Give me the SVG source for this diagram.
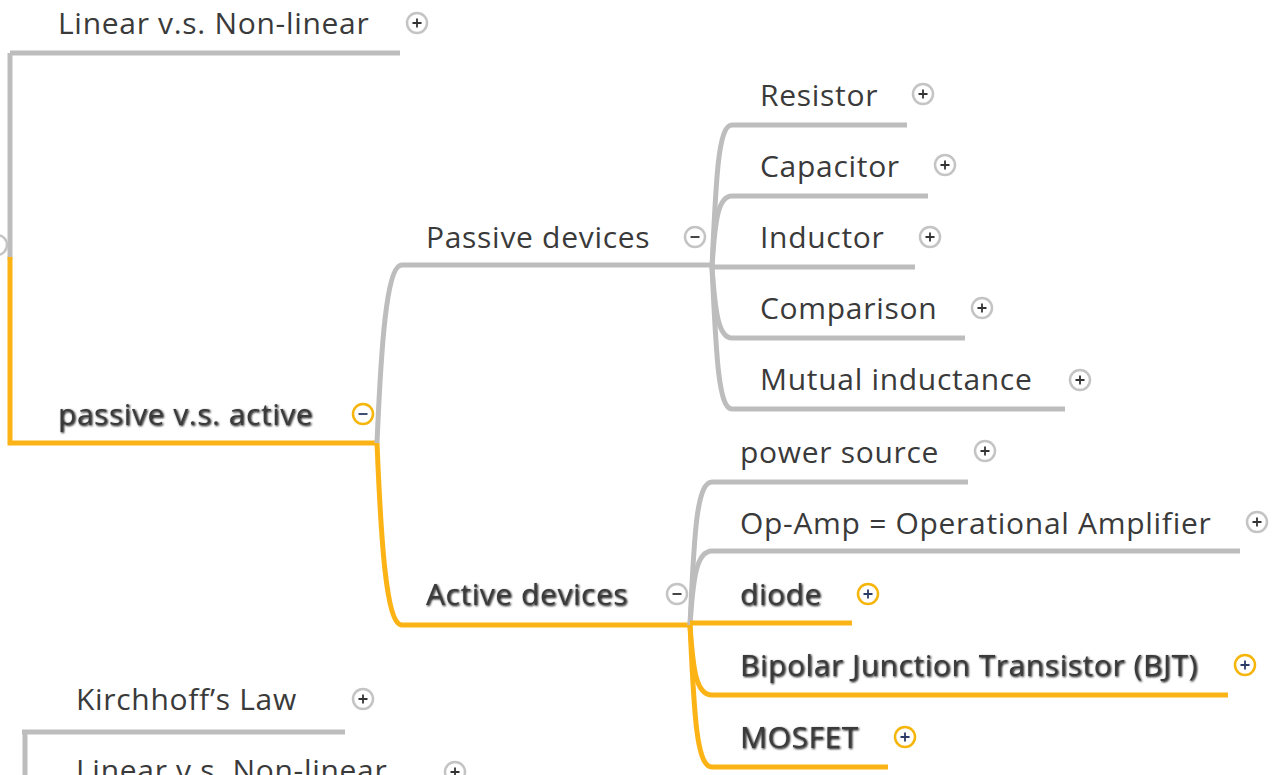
<svg xmlns="http://www.w3.org/2000/svg" width="1272" height="775" viewBox="0 0 1272 775">
<defs>
<style>
.t{font-family:"Open Sans","Liberation Sans",sans-serif;font-size:30px;letter-spacing:0.7px;fill:#3a3a3a}
.hl{filter:url(#sh);letter-spacing:0.55px}
.g{fill:none;stroke:#bdbdbd;stroke-width:5;stroke-linecap:butt}
.o{fill:none;stroke:#fcb316;stroke-width:5;stroke-linecap:butt}
.ic{fill:#fff;stroke:#c4c4c4;stroke-width:2.5}
.ico{fill:#fff;stroke:#f5b50a;stroke-width:2.5}
.pm{stroke:#333;stroke-width:1.8}
.pmo{stroke:#2b3a66;stroke-width:1.8}
</style>
<filter id="sh" x="-5%" y="-20%" width="110%" height="140%">
<feGaussianBlur in="SourceAlpha" stdDeviation="1.2"/>
<feOffset dx="0.5" dy="0.5" result="b"/>
<feMerge><feMergeNode in="b"/><feMergeNode in="SourceGraphic"/></feMerge>
</filter>
</defs>
<rect width="1272" height="775" fill="#fff"/>
<g id="connectors">
<path class="g" d="M10,53 L400,53"/>
<path class="g" d="M10,53 L10,260"/>
<path class="o" d="M10,257 L10,443 L377,443"/>
<path class="g" d="M377,443 C381,350 386,265 402,265 L712,265"/>
<path class="o" d="M377,443 C381,540 386,625 402,625 L690,625"/>
<path class="g" d="M712,267 C716,180 718,125 732,125 L907,125"/>
<path class="g" d="M712,267 C715,220 718,196 732,196 L928,196"/>
<path class="g" d="M712,267 L915,267"/>
<path class="g" d="M712,267 C715,310 718,338 732,338 L965,338"/>
<path class="g" d="M712,267 C716,350 718,409 732,409 L1065,409"/>
<path class="g" d="M690,625 C694,540 696,482 712,482 L968,482"/>
<path class="g" d="M690,625 C693,580 696,551 712,551 L1240,551"/>
<path class="o" d="M690,623 L852,623"/>
<path class="o" d="M690,625 C693,670 696,695 712,695 L1228,695"/>
<path class="o" d="M690,625 C694,710 696,767 712,767 L888,767"/>
<path class="g" d="M22,732 L345,732"/>
<path class="g" d="M25,732 L25,775"/>
</g>
<g id="root-icon"><circle class="ic" cx="-3" cy="245" r="10"/></g>
<g id="n-linear-top">
<text class="t" x="58" y="34">Linear v.s. Non-linear</text>
<circle class="ic" cx="417" cy="23" r="10"/><path class="pm" d="M412.5,23h9M417,18.5v9"/>
</g>
<g id="n-passive-active">
<text class="t hl" x="58" y="425">passive v.s. active</text>
<circle class="ico" cx="363" cy="414" r="10"/><path class="pmo" d="M358.5,414h9"/>
</g>
<g id="n-passive-devices">
<text class="t" x="426" y="248">Passive devices</text>
<circle class="ic" cx="695" cy="237" r="10"/><path class="pm" d="M690.5,237h9"/>
</g>
<g id="n-resistor">
<text class="t" x="760" y="106">Resistor</text>
<circle class="ic" cx="923" cy="94" r="10"/><path class="pm" d="M918.5,94h9M923,89.5v9"/>
</g>
<g id="n-capacitor">
<text class="t" x="760" y="177">Capacitor</text>
<circle class="ic" cx="945" cy="165" r="10"/><path class="pm" d="M940.5,165h9M945,160.5v9"/>
</g>
<g id="n-inductor">
<text class="t" x="760" y="248">Inductor</text>
<circle class="ic" cx="930" cy="237" r="10"/><path class="pm" d="M925.5,237h9M930,232.5v9"/>
</g>
<g id="n-comparison">
<text class="t" x="760" y="319">Comparison</text>
<circle class="ic" cx="982" cy="308" r="10"/><path class="pm" d="M977.5,308h9M982,303.5v9"/>
</g>
<g id="n-mutual">
<text class="t" x="760" y="390">Mutual inductance</text>
<circle class="ic" cx="1080" cy="380" r="10"/><path class="pm" d="M1075.5,380h9M1080,375.5v9"/>
</g>
<g id="n-active-devices">
<text class="t hl" x="426" y="605">Active devices</text>
<circle class="ic" cx="677" cy="594" r="10"/><path class="pm" d="M672.5,594h9"/>
</g>
<g id="n-power-source">
<text class="t" x="740" y="463">power source</text>
<circle class="ic" cx="985" cy="451" r="10"/><path class="pm" d="M980.5,451h9M985,446.5v9"/>
</g>
<g id="n-opamp">
<text class="t" x="740" y="534">Op-Amp = Operational Amplifier</text>
<circle class="ic" cx="1257" cy="522" r="10"/><path class="pm" d="M1252.5,522h9M1257,517.5v9"/>
</g>
<g id="n-diode">
<text class="t hl" x="740" y="605">diode</text>
<circle class="ico" cx="868" cy="594" r="10"/><path class="pmo" d="M863.5,594h9M868,589.5v9"/>
</g>
<g id="n-bjt">
<text class="t hl" x="740" y="676">Bipolar Junction Transistor (BJT)</text>
<circle class="ico" cx="1245" cy="665" r="10"/><path class="pmo" d="M1240.5,665h9M1245,660.5v9"/>
</g>
<g id="n-mosfet">
<text class="t hl" x="740" y="748">MOSFET</text>
<circle class="ico" cx="905" cy="737" r="10"/><path class="pmo" d="M900.5,737h9M905,732.5v9"/>
</g>
<g id="n-kirchhoff">
<text class="t" x="76" y="710">Kirchhoff’s Law</text>
<circle class="ic" cx="363" cy="699" r="10"/><path class="pm" d="M358.5,699h9M363,694.5v9"/>
</g>
<g id="n-linear-bottom">
<text class="t" x="76" y="781">Linear v.s. Non-linear</text>
<circle class="ic" cx="455" cy="772" r="10"/><path class="pm" d="M450.5,772h9M455,767.5v9"/>
</g>
</svg>
